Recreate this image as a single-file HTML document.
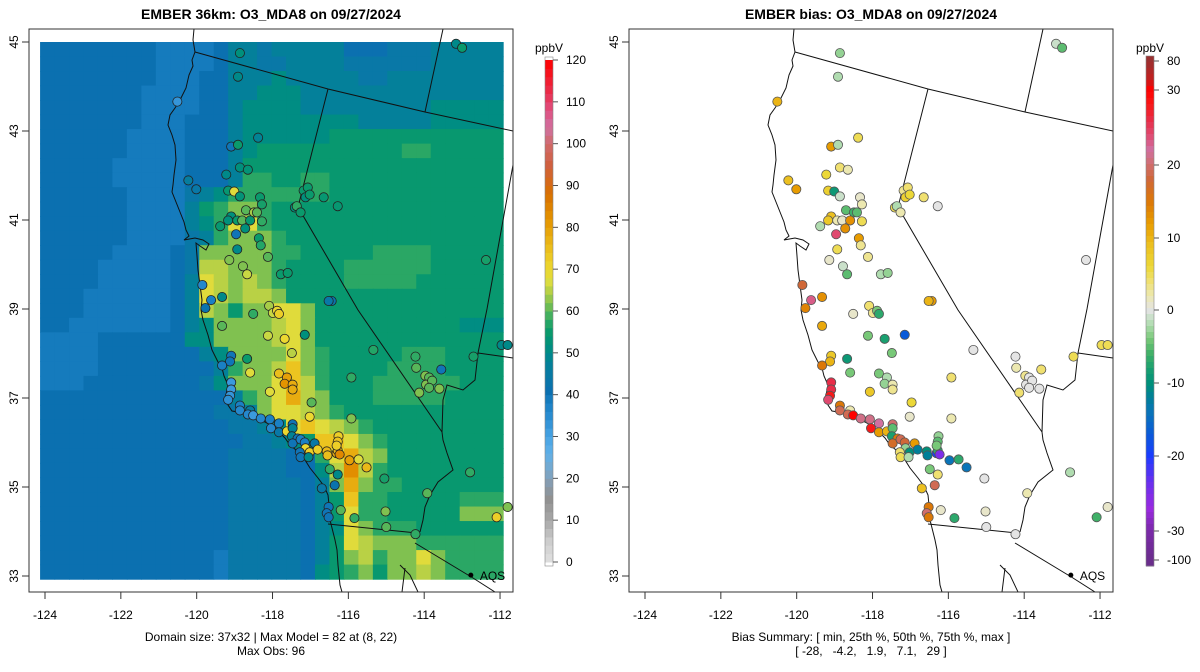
<!DOCTYPE html>
<html><head><meta charset="utf-8"><style>
html,body{margin:0;padding:0;background:#fff;}
svg{display:block;font-family:"Liberation Sans",Arial,sans-serif;}
</style></head><body>
<svg id="chart" width="1200" height="672" viewBox="0 0 1200 672" xmlns="http://www.w3.org/2000/svg">
<defs>
<clipPath id="clipL"><rect x="29" y="29" width="484" height="563"/></clipPath>
<clipPath id="clipR"><rect x="629" y="29" width="484" height="563"/></clipPath>
</defs>
<text x="271" y="19" text-anchor="middle" font-size="14" font-weight="bold">EMBER 36km: O3_MDA8 on 09/27/2024</text>
<text x="871" y="19" text-anchor="middle" font-size="14" font-weight="bold">EMBER bias: O3_MDA8 on 09/27/2024</text>
<g id="gridL" clip-path="url(#clipL)"></g>
<g id="mapL" clip-path="url(#clipL)"></g>
<g id="mapR" clip-path="url(#clipR)"></g>
<g id="ptsL" clip-path="url(#clipL)"></g>
<g id="ptsR" clip-path="url(#clipR)"></g>
<g id="axes"></g>
<g id="cbars"></g>
<text x="271" y="641" text-anchor="middle" font-size="12">Domain size: 37x32 | Max Model = 82 at (8, 22)</text>
<text x="271" y="655" text-anchor="middle" font-size="12">Max Obs: 96</text>
<text x="871" y="641" text-anchor="middle" font-size="12">Bias Summary: [ min, 25th %, 50th %, 75th %, max ]</text>
<text x="871" y="655" text-anchor="middle" font-size="12" xml:space="preserve">[ -28,   -4.2,   1.9,   7.1,   29 ]</text>
</svg>
<script>
// ---- data ----
const gridLevels = {"1":39,"2":41,"3":44,"4":47,"5":51,"6":54.5,"7":57.5,"8":62,"9":65,"A":68,"B":74,"C":78,"D":83};
const gridRows = [
"22222222 11112443 44444222 33344444",
"22222222 11112443 34444333 33344444",
"22222222 11122444 54444433 44444444",
"22222221 11122445 55444444 44444444",
"22222221 11122455 55444444 44455555",
"22222221 11222455 55555544 44455555",
"22222211 11222455 55556666 66666666",
"22222211 11222456 66666666 67766666",
"22222111 11222466 66666666 66666666",
"22222111 11222477 66776666 66666666",
"22222211 11345777 77776666 66666666",
"22222211 11467887 66666666 66666666",
"22222211 11457AA7 66666666 66666666",
"22222211 11347888 76666666 66666666",
"22222111 12388888 77666667 77766666",
"22221111 12399888 76666777 77766666",
"22221111 124A9898 76666777 77666666",
"22211111 124A9899 86666666 66666666",
"22211111 12498688 AA866666 66666666",
"22111111 12458888 9A866666 66666555",
"11112222 22558888 9A866666 66666666",
"11112222 22245888 8A876666 67776666",
"11112222 22224788 9B876666 77776666",
"11122222 22235888 AB976667 77777666",
"22222222 22222478 AC986667 77776666",
"22222222 22223348 AA987666 66666666",
"22222222 22222334 5ABA9876 66666666",
"22222222 22222233 456BBA87 66666666",
"22222222 22222333 3227AC98 66666666",
"22222222 22222333 32259D97 66666666",
"22222222 22222333 33248C87 76666666",
"22222222 22222333 33246B77 66666777",
"22222222 22222333 33246A77 66666888",
"22222222 22222333 33245A87 77666666",
"22222222 22222333 33246A98 88777777",
"22222222 22221333 33246897 88A87777",
"22222222 22221333 33256786 88987777"
];
const gridLonW = -124.13, gridLonE = -111.92, gridLatN = 45.0, gridLatS = 32.93;

const siteLon = [-118.86,-118.91,-120.51,-118.38,-119.09,-118.91,-118.86,-118.65,-119.22,-120.22,-120.01,-119.17,-119.01,-118.86,-118.33,-118.28,-118.70,-118.49,-118.41,-119.09,-119.17,-118.93,-118.80,-118.59,-118.28,-119.38,-118.72,-118.96,-118.36,-118.31,-118.93,-118.12,-119.14,-118.78,-118.67,-117.78,-117.60,-119.85,-119.62,-119.33,-119.77,-118.09,-117.99,-117.88,-117.83,-118.51,-116.44,-116.52,-117.18,-117.07,-117.13,-117.02,-117.41,-117.36,-117.26,-116.65,-116.28,-113.16,-113.00,-112.37,
-119.33,-118.12,-117.68,-117.15,-117.49,-115.34,-119.09,-119.12,-119.33,-118.67,-118.59,-117.83,-117.62,-117.68,-117.47,-117.47,-118.07,-116.97,-117.02,-115.92,-115.92,
-119.09,-119.09,-119.12,-119.17,-118.86,-118.86,-118.59,-118.65,-118.51,-118.31,-118.07,-118.04,-117.83,-117.47,-117.83,-117.62,-117.47,-117.49,-117.34,-117.47,-117.26,-117.15,-116.89,-117.13,-117.02,-117.28,-117.26,-117.05,-116.81,-116.57,-116.55,-116.31,-116.28,-116.26,-116.28,-116.31,-116.23,-115.97,-115.73,-115.52,-116.49,-116.28,-115.05,-116.70,-116.36,-112.79,-113.92,-116.52,-116.57,-116.52,-116.20,-115.84,-115.02,-115.00,-114.23,-114.23,-114.21,-113.55,-113.97,-113.87,-113.95,-113.79,-113.87,-114.13,-113.60,-112.70,-111.96,-111.80,-112.09,-111.80];
const siteLat = [44.75,44.22,43.66,42.85,42.65,42.69,42.18,42.13,42.02,41.89,41.69,41.66,41.64,41.53,41.51,41.35,41.22,41.17,41.17,41.08,40.99,40.99,40.99,40.99,40.97,40.86,40.81,40.68,40.59,40.43,40.34,40.17,40.10,39.96,39.78,39.78,39.81,39.54,39.20,39.27,39.02,39.07,38.91,38.96,38.89,38.89,39.18,39.18,41.66,41.73,41.51,41.57,41.28,41.31,41.17,41.51,41.31,44.96,44.87,40.10,
38.62,38.40,38.33,38.42,38.01,38.08,37.95,37.82,37.73,37.88,37.57,37.55,37.46,37.32,37.30,37.19,37.14,36.90,36.58,37.46,36.54,
37.35,37.19,37.05,36.96,36.83,36.72,36.72,36.63,36.61,36.54,36.52,36.32,36.43,36.41,36.23,36.25,36.32,36.14,36.09,35.98,36.07,36.00,35.98,35.87,35.78,35.78,35.67,35.67,35.84,35.80,35.71,35.76,35.82,36.14,36.02,35.93,35.73,35.60,35.62,35.44,35.40,35.28,35.19,34.97,35.04,35.33,34.86,34.55,34.41,34.32,34.48,34.30,34.45,34.10,33.94,37.93,37.68,37.64,37.50,37.46,37.30,37.39,37.23,37.12,37.21,37.93,38.19,38.19,34.32,34.55];
const siteObs = [52,50,33,48,40,55,52,53,50,46,44,54,68,53,55,56,60,64,60,52,52,55,60,54,58,54,52,40,55,57,50,60,62,62,66,55,55,36,38,50,42,64,66,70,72,58,42,44,55,55,52,55,52,58,55,54,54,50,55,56,
60,66,70,52,65,57,40,40,38,55,68,75,80,82,78,78,68,60,70,58,62,
32,32,33,34,38,36,46,36,32,36,38,36,38,40,44,70,48,48,40,40,38,38,44,70,72,40,40,50,72,76,75,78,76,72,74,72,84,80,68,76,58,50,56,44,42,58,60,40,40,40,60,58,62,60,58,58,60,40,62,60,62,60,60,62,62,56,50,50,72,62];
const siteBias = [-3,-2,10,5,12,-2,4,2,6,9,12,7,-9,-1,1,2,-5,-6,-5,9,8,2,1,13,5,-2,13,24,12,3,5,3,1,-1,-5,-2,-3,18,23,13,14,4,3,-4,-7,1,12,10,3,4,7,6,5,-2,2,4,0,-1,-5,0,
11,-4,-8,-17,-4,0,8,10,15,-9,-4,-4,-2,-3,2,3,8,6,1,4,2,
26,26,28,24,15,19,2,19,30,21,21,28,22,20,12,10,-5,-8,15,17,19,18,12,-3,-10,4,5,-2,-12,-10,-12,-20,-7,-3,-5,-4,-25,-14,-7,-14,-4,4,0,9,19,-2,2,15,20,15,1,-7,1,0,0,0,2,4,3,0,0,0,0,4,0,5,5,5,-6,1];

const lonTicks = [-124,-122,-120,-118,-116,-114,-112];
const latTicks = [33,35,37,39,41,43,45];
const obsTicks = [0,10,20,30,40,50,60,70,80,90,100,110,120];
const biasTicks = [80,30,20,10,0,-10,-20,-30,-100];
const biasTickY = [61,90,165,238,310,383,456,531,560];
const aqsLon = -112.77, aqsLat = 33.02;

// ---- colormaps ----
const obsStops = [[0,"#e0e0e0"],[5,"#cdcdcd"],[10,"#a8a8a8"],[15,"#919191"],[18,"#8a98a6"],[22,"#78a8cc"],[26,"#60b0e8"],[30,"#48a4e4"],[34,"#2e90d4"],[38,"#1a80c4"],[41,"#0b70b0"],[45,"#087aa4"],[49,"#008690"],[52,"#00907c"],[55,"#0a9a6c"],[58,"#30aa64"],[61,"#6cbc54"],[64,"#a8cc48"],[67,"#dadc40"],[70,"#ecd830"],[74,"#ecc420"],[78,"#e8ac10"],[82,"#e49400"],[88,"#d87000"],[95,"#d06040"],[100,"#d06a6a"],[104,"#d070a0"],[108,"#e05080"],[112,"#e83050"],[120,"#ff0000"]];
const biasStops = [[-100,"#6a2d8c"],[-30,"#7a2aa8"],[-27,"#9a2ae0"],[-23,"#6030f0"],[-20,"#1a3cff"],[-17,"#0a5ad8"],[-14,"#0a74b8"],[-12,"#007f98"],[-10,"#00907a"],[-8,"#1aa070"],[-6,"#40b068"],[-4,"#78c878"],[-2,"#b0dcb0"],[0,"#e4e4e4"],[2,"#ece8b0"],[4,"#f0e070"],[6,"#ecd838"],[9,"#ecc020"],[12,"#e89c00"],[15,"#dc7808"],[18,"#d06838"],[20,"#d06e6e"],[22,"#d070a0"],[24,"#e04a70"],[26,"#e82c48"],[28,"#f81818"],[30,"#ff0000"],[50,"#c02020"],[80,"#9a3030"]];
function hx(c){return [parseInt(c.substr(1,2),16),parseInt(c.substr(3,2),16),parseInt(c.substr(5,2),16)];}
function cmap(stops,v){
  if(v<=stops[0][0]) return stops[0][1];
  for(let i=1;i<stops.length;i++){
    if(v<=stops[i][0]){
      const t=(v-stops[i-1][0])/(stops[i][0]-stops[i-1][0]);
      const a=hx(stops[i-1][1]),b=hx(stops[i][1]);
      return "rgb("+a.map((x,k)=>Math.round(x+(b[k]-x)*t)).join(",")+")";
    }
  }
  return stops[stops.length-1][1];
}

// ---- axes ----
const X = (lon,off)=> off + 45 + (lon+124)*37.92;
const Y = lat => 42 + (45-lat)*44.5;
const NS="http://www.w3.org/2000/svg";
function mk(tag,attrs,parent){const e=document.createElementNS(NS,tag);for(const k in attrs)e.setAttribute(k,attrs[k]);parent.appendChild(e);return e;}

// grid
const gL=document.getElementById("gridL");
const nR=gridRows.length, nC=32;
const dLon=(gridLonE-gridLonW)/nC, dLat=(gridLatN-gridLatS)/nR;
gridRows.forEach((row,r)=>{
  const s=row.replace(/ /g,"");
  for(let c=0;c<nC;c++){
    const v=gridLevels[s[c]];
    const x0=X(gridLonW+c*dLon,0), x1=X(gridLonW+(c+1)*dLon,0);
    const y0=Y(gridLatN-r*dLat), y1=Y(gridLatN-(r+1)*dLat);
    const e=mk("rect",{x:x0,y:y0,width:x1-x0+0.6,height:y1-y0+0.6,fill:cmap(obsStops,v)},gL);
    
    
  }
});

// basemap
const coast="M194,29 L193,40 L195,52 L192,60 L193,66 L189,75 L186,88 L180,100 L175,108 L170,115 L168,125 L172,135 L175,145 L176,160 L174,175 L173,185 L172,192 L176,202 L180,212 L184,222 L186,230 L189,236 L184,240 L195,238 L203,240 L209,244 L206,250 L200,246 L196,243 L197,256 L198,270 L200,285 L202,300 L201,310 L203,320 L208,335 L212,350 L218,362 L222,368 L224,376 L228,385 L226,395 L228,405 L232,411 L245,413 L255,418 L265,422 L275,428 L285,438 L290,445 L296,450 L300,455 L305,460 L310,468 L318,478 L324,486 L328,495 L329,505 L328,515 L330,520 L332,528 L335,540 L337,550 L338,565 L340,585 L342,592";
const borders=["M195,52 L328,89 L425,112 L513,131","M443,29 L425,112","M328,89 L298,207 L358,310 L442,432","M442,432 L443,440 L447,453 L453,470 L438,482 L430,495 L425,507 L423,520 L420,532","M328,524 L417,533","M415,543 L473,578 L495,592","M513,165 L487,309 L478,353","M478,353 L475,380 L463,390 L447,385 L443,400 L442,432","M478,353 L513,358","M400,565 L410,575 L418,592","M405,568 L402,592"];
[["mapL",0],["mapR",600]].forEach(([id,off])=>{
  const g=document.getElementById(id);
  const c=mk("path",{d:coast,fill:"none",stroke:"#111","stroke-width":"1",transform:"translate("+off+",0)"},g);
  
  
  borders.forEach(d=>{
    const b=mk("path",{d:d,fill:"none",stroke:"#111","stroke-width":"1",transform:"translate("+off+",0)"},g);
    
    
  });
  const a=mk("circle",{cx:X(aqsLon,off),cy:Y(aqsLat),r:2.5,fill:"#000"},g);
  
  
  const t=mk("text",{x:X(aqsLon,off)+9,y:Y(aqsLat)+5,"font-size":"12"},g);
  t.textContent="AQS";
  
  
});

// points
const pL=document.getElementById("ptsL"), pR=document.getElementById("ptsR");
for(let i=0;i<siteLon.length;i++){
  const a=mk("circle",{cx:X(siteLon[i],0),cy:Y(siteLat[i]),r:4.6,fill:cmap(obsStops,siteObs[i]),stroke:"#222","stroke-width":"0.8"},pL);
  
  
  const b=mk("circle",{cx:X(siteLon[i],600),cy:Y(siteLat[i]),r:4.6,fill:cmap(biasStops,siteBias[i]),stroke:"#555","stroke-width":"0.8"},pR);
  
  
}

// axes boxes & ticks
const ax=document.getElementById("axes");
[0,600].forEach(off=>{
  const box=mk("rect",{x:29+off,y:29,width:484,height:563,fill:"none",stroke:"#333","stroke-width":"1"},ax);
  
  
  lonTicks.forEach(v=>{
    const x=X(v,off);
    const l=mk("line",{x1:x,y1:592,x2:x,y2:599,stroke:"#333"},ax);
    
    
    const t=mk("text",{x:x,y:619,"text-anchor":"middle","font-size":"12"},ax);
    t.textContent=String(v);
    
    
  });
  latTicks.forEach(v=>{
    const y=Y(v);
    const l=mk("line",{x1:22+off,y1:y,x2:29+off,y2:y,stroke:"#333"},ax);
    
    
    const t=mk("text",{x:0,y:0,"text-anchor":"middle","font-size":"12",transform:"translate("+(18+off)+","+y+") rotate(-90)"},ax);
    t.textContent=v;
    
    
  });
});

// colorbars
const cb=document.getElementById("cbars");
const obsY=v=>562-v*(502/120);
for(let v=0;v<120;v+=2){
  const e=mk("rect",{x:545,y:obsY(v+2),width:8,height:obsY(v)-obsY(v+2)+0.5,fill:cmap(obsStops,v+1)},cb);
  
  
}
let e0=mk("rect",{x:545,y:obsY(120)-3,width:8,height:obsY(0)-obsY(120)+7,fill:"none",stroke:"#888","stroke-width":"0.6"},cb);


obsTicks.forEach(v=>{
  const y=obsY(v);
  const l=mk("line",{x1:553,y1:y,x2:558,y2:y,stroke:"#555"},cb);
  
  
  const t=mk("text",{x:566,y:y+4,"font-size":"12"},cb);
  t.textContent=v;
  
  
});
let u=mk("text",{x:549,y:52,"text-anchor":"middle","font-size":"12"},cb);u.textContent="ppbV";



// bias colorbar (nonlinear positions)
function biasAtY(y){
  if(y<=biasTickY[0]) return biasTicks[0];
  for(let i=1;i<biasTickY.length;i++){
    if(y<=biasTickY[i]){const t=(y-biasTickY[i-1])/(biasTickY[i]-biasTickY[i-1]);return biasTicks[i-1]+(biasTicks[i]-biasTicks[i-1])*t;}
  }
  return biasTicks[biasTicks.length-1];
}
for(let y=56;y<566;y+=6){
  const e=mk("rect",{x:1146,y:y,width:8,height:6.5,fill:cmap(biasStops,biasAtY(y+3))},cb);
  
  
}
let e1=mk("rect",{x:1146,y:56,width:8,height:510,fill:"none",stroke:"#888","stroke-width":"0.6"},cb);


biasTicks.forEach((v,i)=>{
  const y=biasTickY[i];
  const l=mk("line",{x1:1154,y1:y,x2:1159,y2:y,stroke:"#555"},cb);
  
  
  const t=mk("text",{x:1167,y:y+4,"font-size":"12"},cb);
  t.textContent=v;
  
  
});
let u2=mk("text",{x:1150,y:52,"text-anchor":"middle","font-size":"12"},cb);u2.textContent="ppbV";


</script>
</body></html>
